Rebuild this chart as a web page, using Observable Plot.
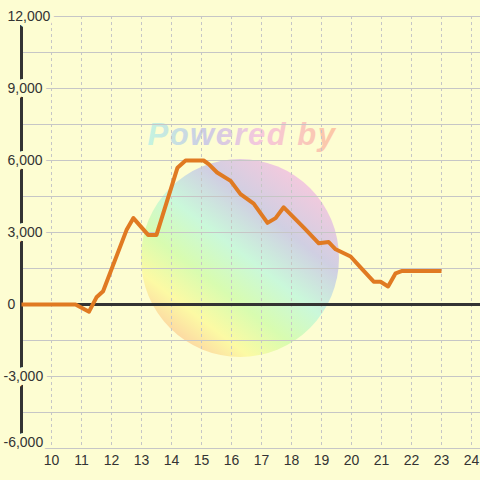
<!DOCTYPE html>
<html><head><meta charset="utf-8">
<script src="https://cdn.jsdelivr.net/npm/d3@7"></script>
<script src="https://cdn.jsdelivr.net/npm/@observablehq/plot@0.6"></script>
<style>html,body{margin:0;padding:0;background:#fdfdd2;} svg{display:block}</style>
</head><body><div id="chart"></div>
<script>
const hours = [9, 10.8, 11.25, 11.5, 11.72, 12.5, 12.73, 13.22, 13.5, 14.2, 14.47, 15.07, 15.24, 15.52, 15.97, 16.3, 16.74, 17.2, 17.47, 17.74, 18.41, 18.91, 19.24, 19.47, 19.97, 20.3, 20.74, 20.97, 21.22, 21.47, 21.69, 23.0];
const values = [0, 0, -300, 300, 550, 3100, 3600, 2900, 2900, 5700, 6000, 6000, 5850, 5500, 5150, 4600, 4200, 3400, 3600, 4050, 3200, 2550, 2600, 2300, 2000, 1550, 950, 950, 750, 1300, 1400, 1400];
const xTicks = [10, 11, 12, 13, 14, 15, 16, 17, 18, 19, 20, 21, 22, 23, 24];
const yGrid = [-6000, -4500, -3000, -1500, 0, 1500, 3000, 4500, 6000, 7500, 9000, 10500, 12000];
const yLabels = [-6000, -3000, 0, 3000, 6000, 9000, 12000];

const data = hours.map((h, i) => ({hour: h, value: values[i]}));
const bg = "#fdfdd2";
const fmt = d => d.toLocaleString("en-US");

function watermark() {
  const g = d3.create("svg:g");
  const defs = g.append("defs");
  const lg = defs.append("linearGradient").attr("id", "wmc")
    .attr("x1", "85%").attr("y1", "5%").attr("x2", "15%").attr("y2", "95%");
  [[0, "#fcc8dc"], [0.28, "#d0cfe2"], [0.48, "#caf8da"], [0.66, "#d8fcb0"], [0.82, "#fcfaa4"], [1, "#fccaa2"]]
    .forEach(([o, c]) => lg.append("stop").attr("offset", o).attr("stop-color", c));
  const tg = defs.append("linearGradient").attr("id", "wmt")
    .attr("x1", "0%").attr("y1", "0%").attr("x2", "100%").attr("y2", "0%");
  [[0, "#c4f4e0"], [0.3, "#cccce4"], [0.6, "#f6c8dc"], [1, "#fcc8a4"]]
    .forEach(([o, c]) => tg.append("stop").attr("offset", o).attr("stop-color", c));
  g.append("circle").attr("cx", 240).attr("cy", 258).attr("r", 99).attr("fill", "url(#wmc)");
  g.append("text").attr("x", 242).attr("y", 145).attr("text-anchor", "middle")
    .attr("font-size", 31).attr("font-weight", "bold").attr("font-style", "italic")
    .attr("letter-spacing", 1.5).attr("font-family", "Liberation Sans, Arial, sans-serif")
    .attr("fill", "url(#wmt)").text("Powered by");
  return g.node();
}

const chart = Plot.plot({
  width: 480, height: 480,
  marginLeft: 21, marginRight: 0, marginTop: 16, marginBottom: 32,
  style: {background: bg, fontFamily: "Liberation Sans, Arial, sans-serif"},
  x: {domain: [9, 24.3], axis: null},
  y: {domain: [-6000, 12000], axis: null},
  marks: [
    watermark,
    Plot.ruleY(yGrid, {stroke: "#c6c6c6", strokeWidth: 1}),
    Plot.ruleX(xTicks, {stroke: "#c6c6c6", strokeWidth: 1, strokeDasharray: "3,3"}),
    Plot.ruleX([9], {stroke: "#333", strokeWidth: 3}),
    Plot.text(yLabels.filter(v => v >= 0), {y: d => d, text: fmt, frameAnchor: "left", textAnchor: "start", dx: -14, fontSize: 14, fill: "#333", stroke: bg, strokeWidth: 8, paintOrder: "stroke"}),
    Plot.text(yLabels.filter(v => v < 0 && v > -6000), {y: d => d, text: fmt, frameAnchor: "left", textAnchor: "start", dx: -18, fontSize: 14, fill: "#333", stroke: bg, strokeWidth: 8, paintOrder: "stroke"}),
    Plot.text(yLabels.filter(v => v === -6000), {y: d => d, text: fmt, frameAnchor: "left", textAnchor: "start", dx: -18, dy: -6, fontSize: 14, fill: "#333", stroke: bg, strokeWidth: 8, paintOrder: "stroke"}),
    Plot.ruleY([0], {stroke: "#333", strokeWidth: 3}),
    Plot.line(data, {x: "hour", y: "value", stroke: "#e07a22", strokeWidth: 4, strokeLinejoin: "round", strokeLinecap: "butt"}),
    Plot.axisX(xTicks, {tickSize: 0, tickPadding: 7, fontSize: 14, fill: "#333", label: null})
  ]
});
document.getElementById("chart").append(chart);
</script>
</body></html>
